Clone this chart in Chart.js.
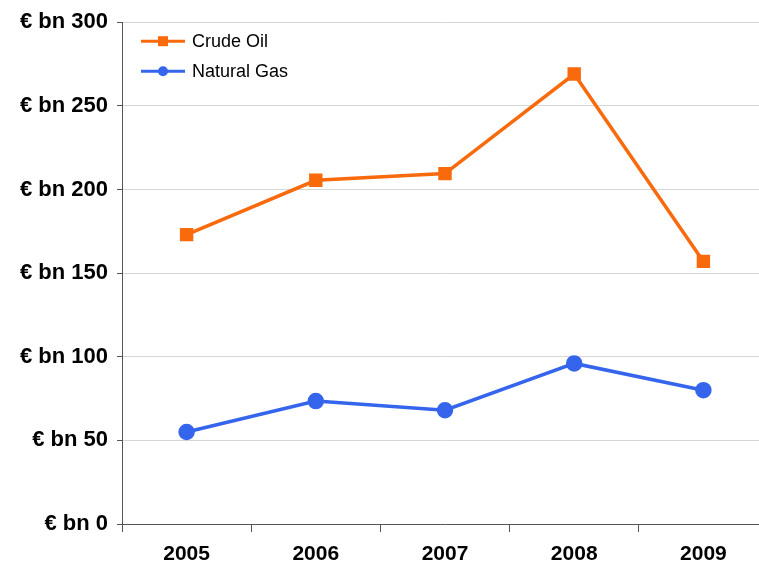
<!DOCTYPE html>
<html lang="en">
<head>
    <meta charset="UTF-8">
    <title>Crude Oil and Natural Gas</title>
    <script src="https://cdn.jsdelivr.net/npm/chart.js"></script>
    <style>
        html, body { margin: 0; padding: 0; overflow: hidden; background: #fff; }
        #wrap { width: 770px; height: 567px; }
        #importChart { width: 770px; height: 567px; display: block; }
    </style>
</head>
<body>
    <div id="wrap"><canvas id="importChart" width="770" height="567"></canvas></div>

    <script>
        // Data
        const years = ['2005', '2006', '2007', '2008', '2009'];
        const crudeOil = [173, 205.5, 209.5, 269, 157];
        const naturalGas = [55, 73.5, 68, 96, 80];
        const yTicks = [0, 50, 100, 150, 200, 250, 300];

        const FONT = "'Liberation Sans', Arial, sans-serif";

        // Legend drawn inside the plot, top left
        const insideLegend = {
            id: 'insideLegend',
            afterDraw(chart) {
                const ctx = chart.ctx;
                const a = chart.chartArea;
                ctx.save();
                chart.data.datasets.forEach((ds, i) => {
                    const y = a.top + 19 + i * 30;
                    const x0 = a.left + 19;
                    ctx.strokeStyle = ds.borderColor;
                    ctx.lineWidth = 3;
                    ctx.beginPath();
                    ctx.moveTo(x0, y);
                    ctx.lineTo(x0 + 44, y);
                    ctx.stroke();
                    ctx.fillStyle = ds.backgroundColor;
                    if (ds.pointStyle === 'rect') {
                        ctx.fillRect(x0 + 17, y - 5, 10, 10);
                    } else {
                        ctx.beginPath();
                        ctx.arc(x0 + 22, y, 5, 0, Math.PI * 2);
                        ctx.fill();
                    }
                    ctx.fillStyle = '#000';
                    ctx.font = '18px ' + FONT;
                    ctx.textBaseline = 'middle';
                    ctx.textAlign = 'left';
                    ctx.fillText(ds.label, x0 + 51, y + 1);
                });
                ctx.restore();
            }
        };

        new Chart(document.getElementById('importChart'), {
            type: 'line',
            data: {
                labels: years,
                datasets: [{
                    label: 'Crude Oil',
                    data: crudeOil,
                    borderColor: '#f86a0c',
                    backgroundColor: '#f86a0c',
                    borderWidth: 3.5,
                    pointStyle: 'rect',
                    pointRadius: 7,
                    pointHoverRadius: 7,
                    tension: 0
                }, {
                    label: 'Natural Gas',
                    data: naturalGas,
                    borderColor: '#3465ec',
                    backgroundColor: '#3465ec',
                    borderWidth: 3.5,
                    pointStyle: 'circle',
                    pointRadius: 6.5,
                    pointHoverRadius: 6.5,
                    tension: 0
                }]
            },
            options: {
                responsive: false,
                animation: false,
                // plot runs a little past the right edge of the window, like the original
                layout: { autoPadding: false, padding: { top: 22, right: 2, left: 0, bottom: 0 } },
                plugins: {
                    legend: { display: false },
                    tooltip: { enabled: false }
                },
                scales: {
                    x: {
                        offset: true,
                        grid: {
                            offset: true,
                            drawOnChartArea: false,
                            tickLength: 8,
                            tickColor: '#555',
                            lineWidth: 1
                        },
                        border: { color: '#555', width: 1 },
                        ticks: {
                            color: '#000',
                            padding: 10,
                            font: { family: FONT, size: 21, weight: 'bold' }
                        },
                        afterFit(scale) {
                            scale.height = 43;
                            scale.paddingLeft = 0;
                            scale.paddingRight = 0;
                        }
                    },
                    y: {
                        min: 0,
                        max: 300,
                        afterBuildTicks(scale) {
                            scale.ticks = yTicks.map(v => ({ value: v }));
                        },
                        grid: {
                            color: '#d6d6d6',
                            tickColor: '#555',
                            tickLength: 5,
                            lineWidth: 1
                        },
                        border: { color: '#555', width: 1 },
                        ticks: {
                            color: '#000',
                            padding: 9,
                            font: { family: FONT, size: 22, weight: 'bold' },
                            callback: v => '€ bn ' + v
                        },
                        afterFit(scale) { scale.width = 122; }
                    }
                }
            },
            plugins: [insideLegend]
        });
    </script>
</body>
</html>
